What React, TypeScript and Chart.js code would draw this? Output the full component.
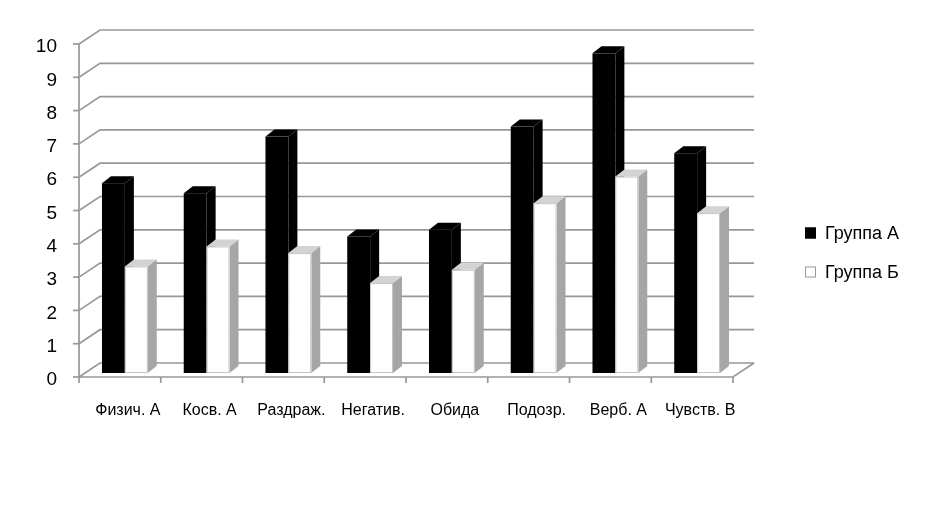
import React, { useEffect, useRef } from "react";
import { Chart, registerables } from "chart.js";

Chart.register(...registerables);

const categories = ["Физич. А", "Косв. А", "Раздраж.", "Негатив.", "Обида", "Подозр.", "Верб. А", "Чувств. В"];
const groupA = [5.7, 5.4, 7.1, 4.1, 4.3, 7.4, 9.6, 6.6];
const groupB = [3.2, 3.8, 3.6, 2.7, 3.1, 5.1, 5.9, 4.8];
const seriesNames = ["Группа А", "Группа Б"];
const yTicks = [0, 1, 2, 3, 4, 5, 6, 7, 8, 9, 10];

const FONT = "'Liberation Sans', Arial, sans-serif";
const GRID = "#989898";
const WALL = { dx: 21, dy: -14 };
const BAR_SHIFT = { dx: 5, dy: -4 };
const BAR_DEPTH = { dx: 9, dy: -7 };
const LABEL_SHIFT = 8;

const pseudo3d = {
  id: "pseudo3d",
  beforeDatasetsDraw(chart: any) {
    const { ctx, chartArea, scales } = chart;
    const ys = scales.y;
    const xs = scales.x;
    const L = chartArea.left;
    const R = chartArea.right;
    const B = chartArea.bottom;
    ctx.save();
    ctx.strokeStyle = GRID;
    ctx.lineWidth = 1.7;
    for (const t of yTicks) {
      const py = ys.getPixelForValue(t);
      ctx.beginPath();
      ctx.moveTo(L, py);
      ctx.lineTo(L + WALL.dx, py + WALL.dy);
      ctx.lineTo(R + WALL.dx, py + WALL.dy);
      ctx.stroke();
      ctx.beginPath();
      ctx.moveTo(L - 6, py);
      ctx.lineTo(L, py);
      ctx.stroke();
    }
    ctx.beginPath();
    ctx.moveTo(R + WALL.dx, B + WALL.dy);
    ctx.lineTo(R, B);
    ctx.lineTo(L, B);
    ctx.stroke();
    ctx.beginPath();
    ctx.moveTo(L, ys.getPixelForValue(yTicks[yTicks.length - 1]));
    ctx.lineTo(L, B);
    ctx.stroke();
    const n = categories.length;
    const cw = (R - L) / n;
    for (let i = 0; i <= n; i++) {
      const px = xs.getPixelForValue(0) - cw / 2 + i * cw;
      ctx.beginPath();
      ctx.moveTo(px, B);
      ctx.lineTo(px, B + 6);
      ctx.stroke();
    }
    ctx.restore();
  },
  afterDatasetsDraw(chart: any) {
    const { ctx } = chart;
    const metas = [chart.getDatasetMeta(0), chart.getDatasetMeta(1)];
    const styles = [
      { front: "#000000", side: "#000000", top: "#000000", line: null as string | null },
      { front: "#ffffff", side: "#a6a6a6", top: "#d3d3d3", line: "#c4c4c4" },
    ];
    ctx.save();
    for (let i = 0; i < categories.length; i++) {
      for (let d = 0; d < 2; d++) {
        const el: any = metas[d].data[i];
        if (!el) continue;
        const st = styles[d];
        const left = el.x - el.width / 2 + BAR_SHIFT.dx;
        const right = el.x + el.width / 2 + BAR_SHIFT.dx;
        const top = el.y + BAR_SHIFT.dy;
        const bottom = el.base + BAR_SHIFT.dy;
        ctx.fillStyle = st.side;
        ctx.beginPath();
        ctx.moveTo(right, top);
        ctx.lineTo(right + BAR_DEPTH.dx, top + BAR_DEPTH.dy);
        ctx.lineTo(right + BAR_DEPTH.dx, bottom + BAR_DEPTH.dy);
        ctx.lineTo(right, bottom);
        ctx.closePath();
        ctx.fill();
        ctx.fillStyle = st.top;
        ctx.beginPath();
        ctx.moveTo(left, top);
        ctx.lineTo(left + BAR_DEPTH.dx, top + BAR_DEPTH.dy);
        ctx.lineTo(right + BAR_DEPTH.dx, top + BAR_DEPTH.dy);
        ctx.lineTo(right, top);
        ctx.closePath();
        ctx.fill();
        ctx.fillStyle = st.front;
        ctx.fillRect(left, top, right - left, bottom - top);
        if (st.line) {
          ctx.strokeStyle = st.line;
          ctx.lineWidth = 1;
          ctx.strokeRect(left + 0.5, top + 0.5, right - left - 1, bottom - top - 1);
        }
      }
    }
    ctx.restore();
  },
  afterDraw(chart: any) {
    const { ctx, chartArea, scales } = chart;
    const xs = scales.x;
    ctx.save();
    ctx.fillStyle = "#000";
    ctx.font = `16px ${FONT}`;
    ctx.textAlign = "center";
    ctx.textBaseline = "middle";
    categories.forEach((c, i) => {
      ctx.fillText(c, xs.getPixelForValue(i) + LABEL_SHIFT, chartArea.bottom + 34);
    });
    const lx = chartArea.right + 72;
    const items = chart.data.datasets.map((ds: any) => ds.label);
    const fills = ["#000000", "#ffffff"];
    const strokes = ["#000000", "#9a9a9a"];
    ctx.font = `18px ${FONT}`;
    ctx.textAlign = "left";
    items.forEach((label: string, k: number) => {
      const cy = 233 + k * 39;
      ctx.fillStyle = fills[k];
      ctx.fillRect(lx, cy - 5.5, 11, 11);
      ctx.strokeStyle = strokes[k];
      ctx.lineWidth = 1;
      ctx.strokeRect(lx + 0.5, cy - 5, 10, 10);
      ctx.fillStyle = "#000";
      ctx.fillText(label, lx + 20, cy + 1);
    });
    ctx.restore();
  },
};

export default function App() {
  const ref = useRef<HTMLCanvasElement | null>(null);
  useEffect(() => {
    if (!ref.current) return;
    const chart = new Chart(ref.current, {
      type: "bar",
      data: {
        labels: categories,
        datasets: [
          { label: seriesNames[0], data: groupA, backgroundColor: "rgba(0,0,0,0)", borderWidth: 0 },
          { label: seriesNames[1], data: groupB, backgroundColor: "rgba(0,0,0,0)", borderWidth: 0 },
        ],
      },
      options: {
        responsive: false,
        animation: false,
        layout: { padding: { left: 0, top: 44, right: 193, bottom: 0 } },
        datasets: { bar: { categoryPercentage: 0.56, barPercentage: 1 } },
        plugins: { legend: { display: false }, tooltip: { enabled: false } },
        scales: {
          x: {
            grid: { display: false, drawTicks: false },
            border: { display: false },
            ticks: { display: false },
            afterFit: (s: any) => {
              s.height = 129;
            },
          },
          y: {
            min: 0,
            max: 10,
            ticks: { stepSize: 1, color: "#000", padding: 22, labelOffset: 3, font: { family: FONT, size: 19 } },
            grid: { display: false, drawTicks: false },
            border: { display: false },
            afterFit: (s: any) => {
              s.width = 79;
            },
          },
        },
      } as any,
      plugins: [pseudo3d],
    });
    return () => chart.destroy();
  }, []);
  return (
    <div style={{ position: "fixed", left: 0, top: 0, width: 926, height: 506, background: "#fff" }}>
      <canvas ref={ref} width={926} height={506} />
    </div>
  );
}
